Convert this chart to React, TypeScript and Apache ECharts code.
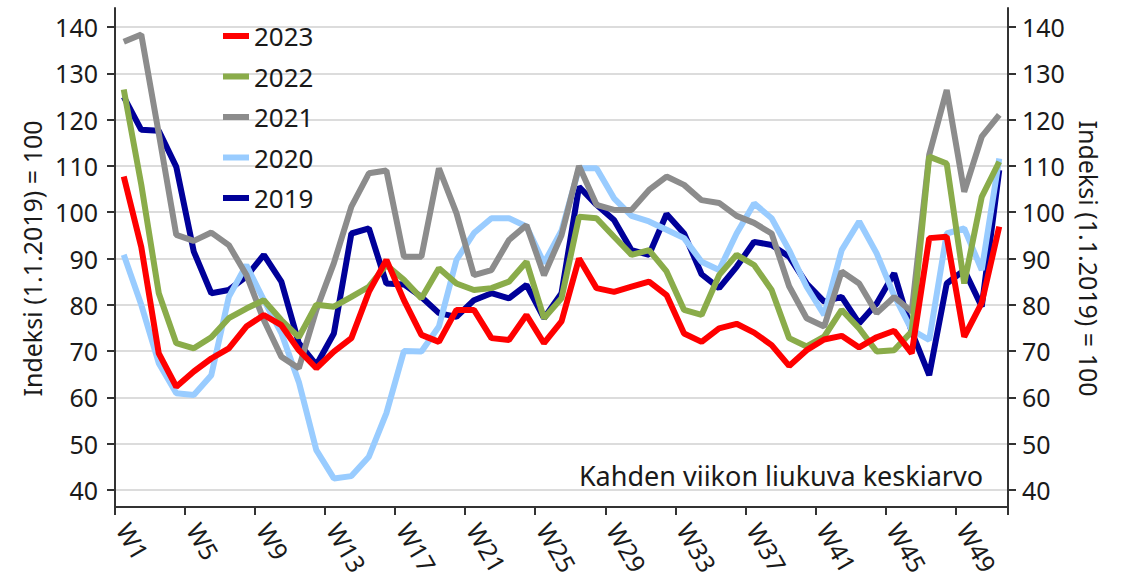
import React, { useEffect, useRef } from 'react';
import * as echarts from 'echarts';

const weeks: string[] = Array.from({ length: 51 }, (_, i) => `W${i + 1}`);
const legendOrder = ['2023', '2022', '2021', '2020', '2019'];

const y2019 = [124.9, 117.8, 117.6, 109.8, 91.5, 82.5, 83.2, 86.1, 90.8, 85.0, 71.7, 67.0, 73.8, 95.4, 96.5, 84.6, 84.4, 81.7, 78.2, 77.4, 81.0, 82.5, 81.4, 84.3, 77.1, 82.5, 105.5, 101.6, 98.3, 91.8, 90.8, 99.6, 95.4, 86.6, 83.6, 88.2, 93.6, 92.9, 90.4, 84.6, 80.7, 81.7, 76.0, 80.3, 86.8, 74.2, 64.8, 84.6, 87.5, 79.6, 109.1];
const y2020 = [90.8, 80.0, 67.4, 60.9, 60.5, 64.8, 81.7, 88.6, 81.0, 73.9, 63.3, 48.6, 42.5, 43.0, 47.2, 56.6, 70.0, 69.9, 75.3, 89.7, 95.5, 98.7, 98.7, 96.9, 89.0, 96.0, 109.5, 109.5, 103.0, 99.2, 98.0, 96.2, 94.4, 89.3, 87.5, 95.4, 101.9, 98.7, 91.8, 83.9, 77.8, 91.8, 98.0, 91.1, 82.0, 74.6, 72.4, 95.4, 96.5, 87.5, 111.6];
const y2021 = [136.8, 138.4, 117.0, 95.1, 93.8, 95.6, 92.9, 86.5, 76.7, 68.8, 66.3, 78.9, 89.0, 101.2, 108.4, 109.0, 90.4, 90.4, 109.5, 99.8, 86.4, 87.5, 94.0, 97.2, 86.4, 95.0, 110.0, 101.6, 100.5, 100.5, 104.8, 107.7, 105.9, 102.6, 102.0, 99.2, 97.7, 95.4, 84.0, 77.1, 75.3, 87.2, 84.6, 78.2, 81.7, 78.5, 112.4, 126.4, 104.4, 116.3, 121.0];
const y2022 = [126.5, 106.0, 82.5, 71.7, 70.6, 73.0, 77.1, 79.2, 81.0, 76.7, 73.0, 80.0, 79.6, 81.7, 83.9, 88.6, 85.4, 81.4, 87.9, 84.6, 83.2, 83.6, 85.0, 89.3, 77.1, 81.4, 99.0, 98.7, 94.7, 90.8, 91.8, 87.2, 78.9, 77.8, 86.4, 90.8, 88.6, 83.2, 72.8, 71.0, 73.1, 78.9, 74.9, 69.9, 70.2, 74.2, 112.0, 110.5, 84.6, 103.3, 110.9];
const y2023 = [107.7, 92.5, 69.5, 62.3, 65.6, 68.4, 70.6, 75.3, 77.8, 75.6, 70.2, 66.3, 69.9, 72.8, 82.8, 89.7, 81.0, 73.5, 72.0, 78.9, 78.9, 72.8, 72.4, 77.8, 71.7, 76.4, 90.0, 83.6, 82.8, 83.9, 85.0, 82.1, 73.8, 72.0, 74.9, 75.9, 74.0, 71.3, 66.8, 70.2, 72.5, 73.3, 70.8, 73.0, 74.4, 69.5, 94.4, 94.7, 73.1, 80.4, 96.9];

const yTitle = 'Indeksi (1.1.2019) = 100';
const note = 'Kahden viikon liukuva keskiarvo';

const FONT = '"Noto Sans", "Open Sans", sans-serif';
const TXT = '#1a1a1a';
const AX = '#333333';

const seriesDefs = [
  { name: '2019', data: y2019, color: '#000099' },
  { name: '2020', data: y2020, color: '#99ccff' },
  { name: '2021', data: y2021, color: '#8c8c8c' },
  { name: '2022', data: y2022, color: '#8aac4a' },
  { name: '2023', data: y2023, color: '#ff0000' },
];

export default function App() {
  const ref = useRef<HTMLDivElement>(null);
  useEffect(() => {
    if (!ref.current) return;
    const chart = echarts.init(ref.current, undefined, { renderer: 'svg' });
    const labelStyle = { fontSize: 25, color: TXT, fontFamily: FONT };
    chart.setOption({
      animation: false,
      backgroundColor: '#ffffff',
      grid: [
        { left: 115, right: 123, top: 27, bottom: 95 },
        { left: 115, right: 123, top: 8, bottom: 78 },
      ],
      legend: {
        data: legendOrder,
        orient: 'vertical',
        left: 218,
        top: 18,
        icon: 'rect',
        itemWidth: 26,
        itemHeight: 6,
        itemGap: 14.5,
        textStyle: { fontSize: 26, lineHeight: 26, color: TXT, fontFamily: FONT },
      },
      xAxis: [
        { gridIndex: 0, type: 'category', data: weeks, boundaryGap: true, show: false },
        {
          gridIndex: 1, type: 'category', data: weeks, boundaryGap: true,
          axisLine: { show: true, lineStyle: { color: AX, width: 2 } },
          axisTick: { show: true, interval: 3, length: 8, lineStyle: { color: AX, width: 2 } },
          axisLabel: { interval: 3, rotate: -60, margin: 18, ...labelStyle },
          splitLine: { show: false },
        },
      ],
      yAxis: [
        {
          gridIndex: 0, type: 'value', min: 40, max: 140, interval: 10, position: 'left',
          axisLine: { show: false },
          axisTick: { show: true, length: 8, lineStyle: { color: AX, width: 2 } },
          axisLabel: { margin: 17, ...labelStyle },
          splitLine: { show: true, lineStyle: { color: '#d0d0d0', width: 1.5 } },
          name: yTitle, nameLocation: 'middle', nameGap: 70,
          nameTextStyle: { ...labelStyle },
        },
        {
          gridIndex: 0, type: 'value', min: 40, max: 140, interval: 10, position: 'right',
          axisLine: { show: false },
          axisTick: { show: true, length: 8, lineStyle: { color: AX, width: 2 } },
          axisLabel: { margin: 14, ...labelStyle },
          splitLine: { show: false },
          name: yTitle, nameLocation: 'middle', nameGap: 68, nameRotate: -90,
          nameTextStyle: { ...labelStyle },
        },
        {
          gridIndex: 1, type: 'value', min: 0, max: 1, position: 'left',
          axisLine: { show: true, lineStyle: { color: AX, width: 2 } },
          axisTick: { show: false }, axisLabel: { show: false }, splitLine: { show: false },
        },
        {
          gridIndex: 1, type: 'value', min: 0, max: 1, position: 'right',
          axisLine: { show: true, lineStyle: { color: AX, width: 2 } },
          axisTick: { show: false }, axisLabel: { show: false }, splitLine: { show: false },
        },
      ],
      graphic: [
        {
          type: 'text', right: 148, top: 462,
          style: { text: note, fontSize: 27, fill: TXT, fontFamily: FONT },
        },
      ],
      series: seriesDefs.map((s) => ({
        name: s.name,
        type: 'line',
        xAxisIndex: 0,
        yAxisIndex: 0,
        data: s.data,
        symbol: 'none',
        showSymbol: false,
        color: s.color,
        itemStyle: { color: s.color },
        lineStyle: { color: s.color, width: 6 },
      })),
    });
    return () => chart.dispose();
  }, []);
  return <div ref={ref} style={{ position: 'absolute', left: 0, top: 0, width: 1131, height: 585 }} />;
}
